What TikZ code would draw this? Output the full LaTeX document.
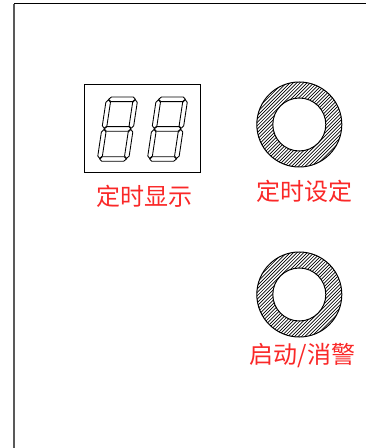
\documentclass[tikz,border=0pt]{standalone}
\usepackage{fontspec}
\newfontfamily\cjk{Noto Sans CJK SC}[Scale=1]
\definecolor{labelred}{RGB}{250,40,40}
\tikzset{
  labeltext/.style={text=labelred,font=\cjk\fontsize{18}{20}\selectfont,inner sep=0pt,anchor=center},
  segline/.style={draw=black,line width=0.65pt,line join=round},
  ringline/.style={draw=black,line width=0.75pt},
  hatchline/.style={draw=black,line width=0.5pt},
  frameline/.style={draw=black,line width=0.75pt},
  frameleft/.style={draw=black!65,line width=1.1pt}
}
\newcommand{\hseg}[1]{\draw[segline] (4.8,#1-2.3) -- (26.6,#1-2.3) -- (29.1,#1) -- (26.6,#1+2.3) -- (4.8,#1+2.3) -- (2.3,#1) -- cycle;}
\newcommand{\vseg}[3]{\draw[segline] (#1,#2+2.5) -- (#1+2.3,#2) -- (#1+4.6,#2+2.5) -- (#1+4.6,#3-2.5) -- (#1+2.3,#3) -- (#1,#3-2.5) -- cycle;}
\newcommand{\digitglyph}[1]{%
  \begin{scope}[shift={(#1,161.3)},cm={1,0,0.15,1,(0,0)}]
    \hseg{-62}
    \hseg{-32.4}
    \hseg{-2.3}
    \vseg{0}{-61.5}{-33}
    \vseg{0}{-31.8}{-2.8}
    \vseg{26.8}{-61.5}{-33}
    \vseg{26.8}{-31.8}{-2.8}
  \end{scope}}
\newcommand{\ringglyph}[2]{%
  \begin{scope}
    \clip (#1,#2) circle (42.5);
    \foreach \k in {-30,...,30} {
      \draw[hatchline] (#1+\k*3.4-60,#2+60) -- (#1+\k*3.4+60,#2-60);
    }
  \end{scope}
  \fill[white] (#1,#2) circle (26.5);
  \draw[ringline] (#1,#2) circle (42.5);
  \draw[ringline] (#1,#2) circle (26.5);}
\begin{document}
\begin{tikzpicture}[x=0.75pt,y=-0.75pt]
  \useasboundingbox (0,0) rectangle (366,448);
  \fill[white] (0,0) rectangle (366,448);
  \draw[frameleft] (14,448) -- (14,4);
  \draw[frameline] (14,4) -- (366,4);
  \draw[line width=0.75pt] (84,84.5) rectangle (200,173);
  \digitglyph{97}
  \digitglyph{147}
  \ringglyph{299.3}{124.5}
  \ringglyph{299.3}{294.5}
  \node[labeltext] (displaylabel) at (144,196) {定时显示};
  \node[labeltext] (setlabel) at (304.5,191) {定时设定};
  \node[labeltext] (startlabel) at (302.5,356) {启动/消警};
\end{tikzpicture}
\end{document}
